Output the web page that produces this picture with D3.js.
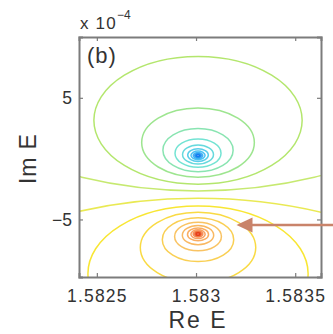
<!DOCTYPE html>
<html>
<head>
<meta charset="utf-8">
<script src="https://cdn.jsdelivr.net/npm/d3@7"></script>
<style>
  body { margin: 0; background: #fff; }
  text { font-family: 'Liberation Sans', Arial, sans-serif; fill: #333; }
</style>
</head>
<body>
<div id="chart"></div>
<script>
// ticks
const reTicks = [1.5825, 1.583, 1.5835]
const imTicks = [-5, 5]

// contour rings (circles in the Re/Im plane, units of 1e-4)
// negative level = rings round the zero (blue), positive = rings round the pole (red)
const ringLevel = [-12, -11, -10, -9, -8, -7, -6, -5, -4, -3, -2, -1,
  1, 2, 3, 4, 5, 6, 7, 8, 9, 10, 11, 12]
const ringCenterIm = [0.25, 0.25, 0.255, 0.26, 0.27, 0.29, 0.34, 0.45, 0.70, 1.32, 3.15, 13.27,
  -20.56, -9.45, -7.31, -6.66, -6.40, -6.29, -6.23, -6.21, -6.20, -6.19, -6.19, -6.19]
const ringRadius = [0.076, 0.112, 0.165, 0.24, 0.355, 0.52, 0.78, 1.16, 1.77, 2.84, 5.25, 15.92,
  17.30, 5.55, 2.91, 1.80, 1.18, 0.79, 0.53, 0.36, 0.245, 0.167, 0.113, 0.077]
const ringCenterRe = 1.58301

// arrow pointing at the pole rings
const arrowTip = { re: 1.583204, im: -5.45 }

const width = 333
const height = 334
const marginLeft = 79
const marginTop = 37
const plotW = 242
const plotH = 240

const svg = d3.select('#chart')
  .append('svg')
  .attr('width', width)
  .attr('height', height)
  .style('background', '#fff')

const x = d3.scaleLinear().domain([1.58241, 1.58363]).range([marginLeft, marginLeft + plotW])
const y = d3.scaleLinear().domain([-9.73, 10.0]).range([marginTop + plotH, marginTop])

const colorScale = d3.scaleLinear()
  .domain([-12, -8, -5, -2, 0, 2, 5, 8, 12])
  .range(['#0060ee', '#20b4f0', '#50dcc8', '#a0e048', '#cfe650', '#f6e000', '#f8b43c', '#f88a3a', '#e42a08'])

svg.append('clipPath').attr('id', 'plot-clip')
  .append('rect')
  .attr('x', marginLeft).attr('y', marginTop)
  .attr('width', plotW).attr('height', plotH)

const rings = ringLevel.map((lev, i) => ({
  level: lev,
  cy: ringCenterIm[i],
  r: ringRadius[i],
}))

svg.append('g')
  .attr('clip-path', 'url(#plot-clip)')
  .selectAll('ellipse')
  .data(rings)
  .join('ellipse')
  .attr('cx', x(ringCenterRe))
  .attr('cy', d => y(d.cy))
  .attr('rx', d => x(ringCenterRe + d.r * 1e-4) - x(ringCenterRe))
  .attr('ry', d => y(d.cy - d.r) - y(d.cy))
  .attr('fill', 'none')
  .attr('stroke', d => colorScale(d.level))
  .attr('stroke-width', 1.5)
  .attr('stroke-opacity', 0.8)

// frame and ticks
const frameColor = '#7c7c7c'
const axB = svg.append('g')
  .attr('transform', `translate(0,${marginTop + plotH})`)
  .call(d3.axisBottom(x).tickValues(reTicks).tickSize(-4).tickPadding(13).tickFormat(d => String(d)))
const axT = svg.append('g')
  .attr('transform', `translate(0,${marginTop})`)
  .call(d3.axisTop(x).tickValues(reTicks).tickSize(-4).tickFormat(''))
const axL = svg.append('g')
  .attr('transform', `translate(${marginLeft},0)`)
  .call(d3.axisLeft(y).tickValues(imTicks).tickSize(-4).tickPadding(7).tickFormat(d3.format('d')))
const axR = svg.append('g')
  .attr('transform', `translate(${marginLeft + plotW},0)`)
  .call(d3.axisRight(y).tickValues(imTicks).tickSize(-4).tickFormat(''))

;[axB, axT, axL, axR].forEach(g => {
  g.select('.domain').attr('stroke', frameColor).attr('stroke-width', 2)
  g.selectAll('.tick line').attr('stroke', frameColor).attr('stroke-width', 1.2)
  g.selectAll('.tick text')
    .attr('fill', '#333')
    .style('font-family', "'Liberation Sans', Arial, sans-serif")
})
axB.selectAll('.tick text').style('font-size', '17.5px').style('letter-spacing', '1.2px')
axL.selectAll('.tick text').style('font-size', '17.5px')

// axis labels
svg.append('text')
  .attr('x', x(1.583) + 2)
  .attr('y', 328)
  .attr('text-anchor', 'middle')
  .style('font-size', '23px')
  .style('letter-spacing', '2px')
  .text('Re E')

svg.append('text')
  .attr('transform', `translate(36,${y(0)}) rotate(-90)`)
  .attr('text-anchor', 'middle')
  .style('font-size', '23px')
  .style('letter-spacing', '0.8px')
  .text('Im E')

// exponent
const expo = svg.append('text')
  .attr('x', marginLeft + 1)
  .attr('y', 29)
  .style('font-size', '17px')
  .style('letter-spacing', '1.2px')
expo.append('tspan').text('x 10')
expo.append('tspan')
  .attr('dy', -10)
  .style('font-size', '12px')
  .style('letter-spacing', '0px')
  .text('\u22124')

// panel tag
svg.append('text')
  .attr('x', marginLeft + 8)
  .attr('y', 63)
  .style('font-size', '22px')
  .style('letter-spacing', '1px')
  .text('(b)')

// arrow
const arrowColor = '#c9836a'
const tipX = x(arrowTip.re)
const tipY = y(arrowTip.im)
svg.append('line')
  .attr('x1', width).attr('y1', tipY)
  .attr('x2', tipX + 12).attr('y2', tipY)
  .attr('stroke', arrowColor)
  .attr('stroke-width', 2.5)
svg.append('path')
  .attr('d', `M${tipX},${tipY}L${tipX + 16},${tipY - 7.5}L${tipX + 16},${tipY + 7.5}Z`)
  .attr('fill', arrowColor)
</script>
</body>
</html>
